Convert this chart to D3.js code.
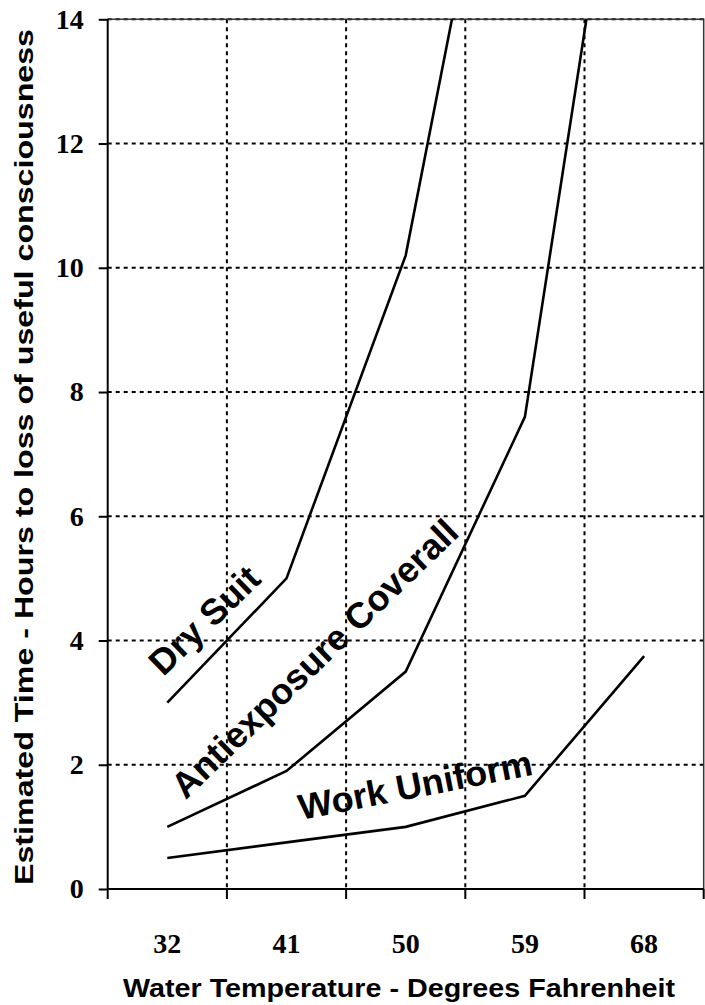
<!DOCTYPE html>
<html>
<head>
<meta charset="utf-8">
<script src="https://cdn.jsdelivr.net/npm/d3@7"></script>
<style>
  body { margin: 0; background: #fff; }
  svg { display: block; }
</style>
</head>
<body>
<svg id="chart" width="705" height="1005"></svg>
<script>
// water temperature categories (deg F)
const temps = ["32", "41", "50", "59", "68"];

// hours to loss of useful consciousness, one value per temperature (null = no point)
const workUniform = [0.5, 0.75, 1.0, 1.5, 3.75];
const antiexposure = [1.0, 1.9, 3.5, 7.6, 20.0];
const drySuit = [3.0, 5.0, 10.2, 20.0, null];

const yTicks = [0, 2, 4, 6, 8, 10, 12, 14];

// label anchors, in chart units (deg F, hours) and rotation in degrees
const seriesLabels = [
    {text: "Dry Suit", temp: 31.7, hours: 3.41, angle: -44},
    {text: "Antiexposure Coverall", temp: 33.4, hours: 1.43, angle: -44},
    {text: "Work Uniform", temp: 42.1, hours: 1.11, angle: -11}
];

let svg = d3.select("#chart");
let margin = {top: 19.3, right: 1.3, bottom: 116, left: 107.7};
let svgWidth = +svg.attr("width");
let svgHeight = +svg.attr("height");
let width = svgWidth - margin.left - margin.right;
let height = svgHeight - margin.top - margin.bottom;

let x = d3.scaleBand().domain(temps).range([0, width]);
let y = d3.scaleLinear().domain([0, 14]).range([height, 0]);

// linear helper so labels can sit between categories
let xTemp = d3.scaleLinear()
    .domain([+temps[0], +temps[temps.length - 1]])
    .range([x(temps[0]) + x.bandwidth() / 2, x(temps[temps.length - 1]) + x.bandwidth() / 2]);

let g = svg.append("g")
    .attr("transform", "translate(" + margin.left + "," + margin.top + ")");

g.append("clipPath").attr("id", "plotClip")
    .append("rect")
    .attr("width", width)
    .attr("height", height);

// gridlines
g.append("g").selectAll("line.hgrid")
    .data(yTicks.filter(d => d > 0))
    .enter().append("line")
    .attr("x1", 0).attr("x2", width)
    .attr("y1", d => y(d)).attr("y2", d => y(d))
    .attr("stroke", "#000").attr("stroke-width", 2)
    .attr("stroke-dasharray", "4,4");

g.append("g").selectAll("line.vgrid")
    .data(temps.slice(1))
    .enter().append("line")
    .attr("x1", d => x(d)).attr("x2", d => x(d))
    .attr("y1", 0).attr("y2", height)
    .attr("stroke", "#000").attr("stroke-width", 2)
    .attr("stroke-dasharray", "4,4");

// top and right border
g.append("path")
    .attr("d", "M0,0H" + width + "V" + height)
    .attr("fill", "none")
    .attr("stroke", "#333")
    .attr("stroke-width", 1.5);

// series lines
let line = d3.line()
    .defined(d => d.v !== null)
    .x(d => x(d.t) + x.bandwidth() / 2)
    .y(d => y(d.v));

[workUniform, antiexposure, drySuit].forEach(function (series) {
    let pts = series.map((v, i) => ({t: temps[i], v: v}));
    g.append("path")
        .datum(pts)
        .attr("clip-path", "url(#plotClip)")
        .attr("d", line)
        .attr("fill", "none")
        .attr("stroke", "#000")
        .attr("stroke-width", 2.6)
        .attr("stroke-linejoin", "miter");
});

// series labels
g.selectAll("text.series")
    .data(seriesLabels)
    .enter().append("text")
    .attr("class", "series")
    .attr("transform", d => "translate(" + xTemp(d.temp) + "," + y(d.hours) + ") rotate(" + d.angle + ")")
    .style("font-family", "'Liberation Sans', Arial, sans-serif")
    .style("font-weight", "bold")
    .style("font-size", "36px")
    .text(d => d.text);

// axes
let yAxis = g.append("g")
    .call(d3.axisLeft(y).tickValues(yTicks).tickSize(9).tickPadding(15).tickFormat(d3.format("d")));

// bottom axis: ticks at category boundaries, labels at centres
let xAxis = g.append("g")
    .attr("transform", "translate(0," + height + ")")
    .call(d3.axisBottom(x).tickSize(0).tickPadding(44));

xAxis.selectAll("line.boundary")
    .data(temps.concat(["end"]))
    .enter().append("line")
    .attr("x1", (d, i) => i < temps.length ? x(d) : width)
    .attr("x2", (d, i) => i < temps.length ? x(d) : width)
    .attr("y1", 0).attr("y2", 10)
    .attr("stroke", "#000").attr("stroke-width", 2);

[yAxis, xAxis].forEach(function (ax) {
    ax.select(".domain").attr("stroke", "#000").attr("stroke-width", 2);
    ax.selectAll(".tick line").attr("stroke", "#000").attr("stroke-width", 2);
    ax.selectAll("text")
        .attr("fill", "#000")
        .style("font-family", "'Liberation Serif', 'Times New Roman', serif")
        .style("font-weight", "bold")
        .style("font-size", "28px");
});
yAxis.select(".domain").attr("d", "M0,0V" + height);
xAxis.select(".domain").attr("d", "M0,0H" + width);

// axis titles
svg.append("text")
    .attr("x", 399)
    .attr("y", 997)
    .attr("text-anchor", "middle")
    .attr("textLength", 552)
    .attr("lengthAdjust", "spacingAndGlyphs")
    .style("font-family", "'Liberation Sans', Arial, sans-serif")
    .style("font-weight", "bold")
    .style("font-size", "25px")
    .text("Water Temperature - Degrees Fahrenheit");

svg.append("text")
    .attr("transform", "translate(33,457) rotate(-90)")
    .attr("text-anchor", "middle")
    .attr("textLength", 856)
    .attr("lengthAdjust", "spacingAndGlyphs")
    .style("font-family", "'Liberation Sans', Arial, sans-serif")
    .style("font-weight", "bold")
    .style("font-size", "25px")
    .text("Estimated Time - Hours to loss of useful consciousness");
</script>
</body>
</html>
